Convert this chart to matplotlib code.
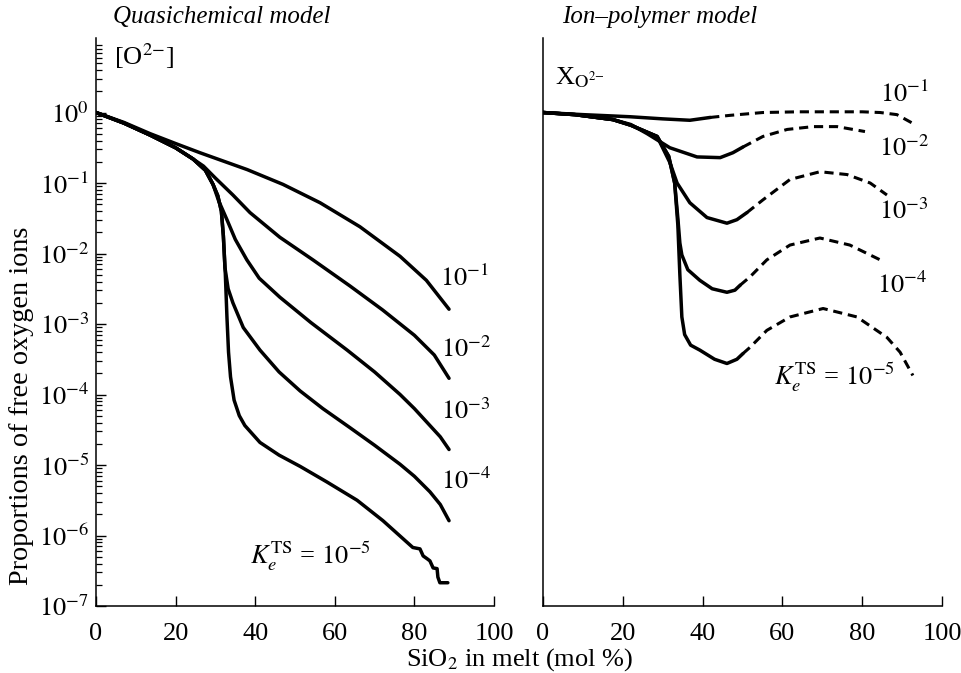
import numpy as np
import matplotlib
matplotlib.use("Agg")
import matplotlib.pyplot as plt
from matplotlib.ticker import LogLocator, NullFormatter

plt.rcParams['font.family'] = ['Liberation Serif', 'DejaVu Serif']
plt.rcParams['mathtext.fontset'] = 'stix'

# ---------------- data (x in mol % SiO2, y given as log10 of proportion) -------------
# Quasichemical model (left panel)
q1_x = [0, 7, 13.6, 20, 26.1, 38, 47, 56.3, 66.3, 76.4, 83, 88.7]
q1_log = [0, -0.14, -0.30, -0.44, -0.57, -0.81, -1.02, -1.28, -1.62, -2.04, -2.38, -2.79]

q2_x = [0, 7, 13.6, 20, 24.4, 27, 30, 34.4, 38.7, 46.2, 54.5, 63.8, 72, 80, 85, 88.7]
q2_log = [0, -0.15, -0.32, -0.50, -0.66, -0.76, -0.93, -1.17, -1.42, -1.77, -2.09, -2.46, -2.80, -3.16, -3.44, -3.77]

q3_x = [0, 7, 13.6, 20, 24.4, 27.5, 29.4, 30.8, 32.9, 35, 37.9, 41, 46.2, 54, 63.1, 70, 76.4, 80, 83.9, 86.5, 88.7]
q3_log = [0, -0.15, -0.32, -0.50, -0.66, -0.82, -1.02, -1.25, -1.52, -1.80, -2.09, -2.35, -2.62, -2.98, -3.37, -3.68, -4.0, -4.20, -4.44, -4.60, -4.78]

q4_x = [0, 7, 13.6, 20, 24.4, 27.5, 29.4, 30.6, 31.5, 32.0, 32.4, 33.2, 34.4, 37, 41.2, 46, 51.3, 57, 63.8, 70, 76.4, 80, 83.9, 86.5, 88.7]
q4_log = [0, -0.15, -0.32, -0.50, -0.66, -0.82, -1.02, -1.18, -1.40, -1.75, -2.20, -2.50, -2.70, -3.05, -3.37, -3.68, -3.95, -4.20, -4.47, -4.72, -4.99, -5.16, -5.38, -5.56, -5.79]

q5_x = [0, 7, 13.6, 20, 24.4, 27.5, 29.4, 30.6, 31.5, 32.0, 32.5, 32.9, 33.3, 33.8, 34.7, 36, 37.4, 41.2, 46, 51.3, 58.0, 65.6, 72.1, 79.6,
        81.4, 82.2, 83.2, 83.9, 84.7, 85.7, 85.9, 86.4, 88.4]
q5_log = [0, -0.15, -0.32, -0.50, -0.66, -0.82, -1.02, -1.18, -1.40, -1.75, -2.30, -2.90, -3.40, -3.75, -4.08, -4.30, -4.44, -4.68, -4.86, -5.02, -5.24, -5.50, -5.79, -6.17,
          -6.19, -6.29, -6.33, -6.36, -6.46, -6.47, -6.59, -6.67, -6.67]

q_labels = [r'$10^{-1}$', r'$10^{-2}$', r'$10^{-3}$', r'$10^{-4}$', r'$K_e^{\mathrm{TS}}$ = $10^{-5}$']

# Ion-polymer model (right panel): solid part, then dashed continuation
p1_x = [0, 10, 21.8, 30, 36.8, 41.9]
p1_log = [0, -0.03, -0.06, -0.09, -0.11, -0.07]
p1d_x = [41.9, 46.9, 55.1, 64, 72, 80, 84.5, 88.7, 93.2]
p1d_log = [-0.07, -0.04, 0.0, 0.01, 0.01, 0.01, 0.0, -0.03, -0.17]

p2_x = [0, 8, 17.5, 22, 26.1, 31.8, 38.6, 44.4, 47.6, 50.1]
p2_log = [0, -0.03, -0.10, -0.17, -0.30, -0.50, -0.63, -0.64, -0.57, -0.49]
p2d_x = [50.1, 55.1, 61.2, 67.7, 73.7, 80.7]
p2d_log = [-0.49, -0.34, -0.24, -0.20, -0.20, -0.27]

p3_x = [0, 8, 17.5, 22, 28.6, 31.8, 33.6, 36.8, 41.1, 46.1, 48.6, 51.1]
p3_log = [0, -0.03, -0.10, -0.18, -0.34, -0.71, -1.0, -1.28, -1.49, -1.57, -1.52, -1.42]
p3d_x = [51.1, 55.1, 61.9, 69.4, 76.2, 82, 86.2]
p3d_log = [-1.42, -1.24, -0.95, -0.84, -0.88, -1.0, -1.17]

p4_x = [0, 8, 17.5, 22, 28.6, 31.5, 33.0, 33.8, 34.3, 34.8, 36.3, 39.3, 42.4, 46.1, 48.1, 49.4]
p4_log = [0, -0.03, -0.10, -0.18, -0.34, -0.62, -1.0, -1.5, -1.85, -2.02, -2.23, -2.38, -2.50, -2.55, -2.52, -2.45]
p4d_x = [49.4, 51.9, 56.1, 61.9, 69.4, 76.9, 84.5]
p4d_log = [-2.45, -2.33, -2.09, -1.88, -1.78, -1.88, -2.09]

p5_x = [0, 8, 17.5, 22, 28.6, 31.5, 33.0, 33.8, 34.3, 34.8, 35.5, 37, 39.3, 43, 46.1, 48.6, 50.1]
p5_log = [0, -0.03, -0.10, -0.18, -0.34, -0.62, -1.0, -1.6, -2.3, -2.9, -3.15, -3.30, -3.37, -3.50, -3.56, -3.50, -3.42]
p5d_x = [50.1, 51.9, 56.1, 61.9, 70.2, 78.7, 86.2, 89.5, 92.7]
p5d_log = [-3.42, -3.33, -3.09, -2.90, -2.78, -2.90, -3.19, -3.40, -3.73]

p_labels = [r'$10^{-1}$', r'$10^{-2}$', r'$10^{-3}$', r'$10^{-4}$', r'$K_e^{\mathrm{TS}}$ = $10^{-5}$']

x_ticks = [0, 20, 40, 60, 80, 100]

# ---------------- figure ----------------
W, H = 962, 673
fig = plt.figure(figsize=(W / 100, H / 100), dpi=100)

def ax_rect(x0, x1, ytop, ybot):
    return [x0 / W, 1 - ybot / H, (x1 - x0) / W, (ybot - ytop) / H]

axL = fig.add_axes(ax_rect(96, 494, 38, 606))
axR = fig.add_axes(ax_rect(543, 942, 38, 606))

ylim = (1e-7, 10 ** 1.057)
lw = 2.5
fs = 19

for ax in (axL, axR):
    ax.set_yscale('log')
    ax.set_xlim(0, 100)
    ax.set_ylim(*ylim)
    for s in ('top', 'right'):
        ax.spines[s].set_visible(False)
    for s in ('left', 'bottom'):
        ax.spines[s].set_linewidth(1.1)
    ax.set_xticks(x_ticks)
    ax.set_xticklabels([str(t) for t in x_ticks])
    ax.tick_params(axis='x', direction='in', length=7, width=1.0, labelsize=fs, pad=12)

axL.yaxis.set_minor_locator(LogLocator(base=10, subs=np.arange(2, 10), numticks=20))
axL.yaxis.set_minor_formatter(NullFormatter())
axL.tick_params(axis='y', which='major', direction='in', length=7, width=1.0, labelsize=fs, pad=5)
axL.tick_params(axis='y', which='minor', direction='in', length=4.5, width=0.9)
axL.set_yticks([10.0 ** e for e in range(-7, 1)])
axL.set_yticklabels([r'$10^{%d}$' % e if e != 0 else r'$10^{0}$' for e in range(-7, 1)])

axR.tick_params(axis='y', which='both', left=False, labelleft=False)

def L(v):
    return 10.0 ** np.asarray(v)

style = dict(color='black', lw=lw, solid_capstyle='round', solid_joinstyle='round')
for xs, ls in [(q1_x, q1_log), (q2_x, q2_log), (q3_x, q3_log), (q4_x, q4_log), (q5_x, q5_log)]:
    axL.plot(xs, L(ls), **style)

dstyle = dict(color='black', lw=2.2, dashes=(3.0, 1.9))
for (xs, ls), (xd, ld) in [((p1_x, p1_log), (p1d_x, p1d_log)), ((p2_x, p2_log), (p2d_x, p2d_log)),
                           ((p3_x, p3_log), (p3d_x, p3d_log)), ((p4_x, p4_log), (p4d_x, p4d_log)),
                           ((p5_x, p5_log), (p5d_x, p5d_log))]:
    axR.plot(xs, L(ls), **style)
    axR.plot(xd, L(ld), **dstyle)

# curve labels
q_lab_pos = [(92.5, -2.35), (93.0, -3.35), (93.0, -4.23), (93.0, -5.23), (54.0, -6.30)]
for (x, ly), t in zip(q_lab_pos, q_labels):
    axL.text(x, 10 ** ly, t, fontsize=fs, ha='center', va='center')

p_lab_pos = [(90.5, 0.27), (90.5, -0.50), (90.5, -1.40), (90.0, -2.45), (73.0, -3.75)]
for (x, ly), t in zip(p_lab_pos, p_labels):
    axR.text(x, 10 ** ly, t, fontsize=fs, ha='center', va='center')

axL.text(4.5, 10 ** 0.80, r'[O$^{2{-}}$]', fontsize=fs, ha='left', va='center')
axR.text(3.0, 10 ** 0.50, r'X$_{\mathrm{O}^{2{-}}}$', fontsize=fs, ha='left', va='center')

fig.text(222 / W, 1 - 17 / H, 'Quasichemical model', fontsize=18, style='italic', ha='center', va='center')
fig.text(660 / W, 1 - 17 / H, 'Ion\u2013polymer model', fontsize=18, style='italic', ha='center', va='center')

fig.text(22 / W, 1 - 406 / H, 'Proportions of free oxygen ions', fontsize=20.3, rotation=90, ha='center', va='center')
fig.text(520 / W, 1 - 660 / H, r'SiO$_2$ in melt (mol %)', fontsize=19, ha='center', va='center')

fig.savefig('out.png', dpi=100)
